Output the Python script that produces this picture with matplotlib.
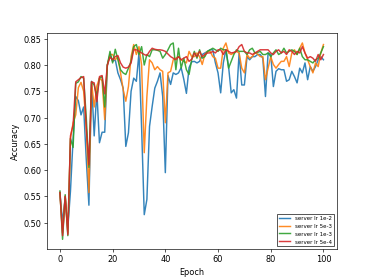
import matplotlib
matplotlib.use("Agg")
import matplotlib.pyplot as plt
import numpy as np

epochs = list(range(101))

acc_lr_1e2 = [
    0.557, 0.500, 0.548, 0.490, 0.560, 0.660, 0.740, 0.732, 0.705, 0.720,
    0.620, 0.533, 0.769, 0.665, 0.750, 0.652, 0.672, 0.672, 0.800, 0.820,
    0.807, 0.810, 0.785, 0.772, 0.756, 0.645, 0.671, 0.750, 0.775, 0.769,
    0.823, 0.680, 0.515, 0.544, 0.683, 0.721, 0.756, 0.769, 0.785, 0.740,
    0.595, 0.780, 0.763, 0.785, 0.782, 0.785, 0.795, 0.773, 0.746, 0.795,
    0.806, 0.807, 0.804, 0.807, 0.820, 0.823, 0.826, 0.829, 0.829, 0.804,
    0.785, 0.747, 0.804, 0.829, 0.797, 0.747, 0.753, 0.737, 0.823, 0.762,
    0.762, 0.816, 0.810, 0.816, 0.816, 0.820, 0.820, 0.813, 0.740, 0.823,
    0.820, 0.759, 0.788, 0.793, 0.791, 0.791, 0.769, 0.772, 0.788, 0.778,
    0.766, 0.794, 0.785, 0.804, 0.772, 0.797, 0.788, 0.797, 0.810, 0.816,
    0.810,
]

acc_lr_5e3 = [
    0.557, 0.480, 0.550, 0.480, 0.660, 0.690, 0.705, 0.757, 0.767, 0.750,
    0.680, 0.557, 0.768, 0.720, 0.760, 0.775, 0.770, 0.696, 0.800, 0.820,
    0.820, 0.810, 0.816, 0.785, 0.753, 0.731, 0.759, 0.816, 0.839, 0.820,
    0.835, 0.800, 0.633, 0.740, 0.810, 0.804, 0.791, 0.797, 0.791, 0.788,
    0.690, 0.785, 0.788, 0.810, 0.813, 0.816, 0.810, 0.807, 0.804, 0.826,
    0.816, 0.816, 0.823, 0.816, 0.801, 0.820, 0.826, 0.826, 0.816, 0.813,
    0.794, 0.794, 0.832, 0.842, 0.823, 0.820, 0.823, 0.826, 0.823, 0.794,
    0.785, 0.820, 0.813, 0.816, 0.823, 0.821, 0.816, 0.816, 0.772, 0.794,
    0.816, 0.801, 0.794, 0.801, 0.807, 0.807, 0.816, 0.797, 0.823, 0.829,
    0.820, 0.832, 0.842, 0.823, 0.810, 0.797, 0.785, 0.804, 0.797, 0.823,
    0.839,
]

acc_lr_1e3 = [
    0.560, 0.468, 0.553, 0.475, 0.660, 0.643, 0.765, 0.768, 0.778, 0.775,
    0.700, 0.605, 0.768, 0.762, 0.740, 0.775, 0.778, 0.720, 0.800, 0.826,
    0.804, 0.830, 0.810, 0.791, 0.785, 0.782, 0.794, 0.807, 0.835, 0.839,
    0.820, 0.835, 0.800, 0.820, 0.816, 0.829, 0.829, 0.828, 0.826, 0.813,
    0.820, 0.829, 0.839, 0.842, 0.791, 0.832, 0.794, 0.813, 0.791, 0.782,
    0.810, 0.826, 0.813, 0.829, 0.813, 0.816, 0.826, 0.829, 0.832, 0.829,
    0.826, 0.832, 0.829, 0.829, 0.794, 0.807, 0.820, 0.829, 0.826, 0.826,
    0.826, 0.820, 0.829, 0.832, 0.823, 0.824, 0.826, 0.820, 0.820, 0.823,
    0.816, 0.823, 0.829, 0.820, 0.823, 0.832, 0.823, 0.826, 0.829, 0.826,
    0.820, 0.832, 0.816, 0.810, 0.810, 0.807, 0.804, 0.810, 0.813, 0.823,
    0.835,
]

acc_lr_5e4 = [
    0.557, 0.475, 0.550, 0.477, 0.665, 0.686, 0.768, 0.772, 0.776, 0.778,
    0.680, 0.610, 0.768, 0.766, 0.730, 0.778, 0.780, 0.745, 0.800, 0.815,
    0.810, 0.816, 0.818, 0.804, 0.796, 0.794, 0.796, 0.804, 0.829, 0.829,
    0.826, 0.823, 0.820, 0.818, 0.826, 0.832, 0.830, 0.829, 0.829, 0.828,
    0.826, 0.821, 0.816, 0.813, 0.810, 0.816, 0.810, 0.813, 0.816, 0.807,
    0.811, 0.823, 0.816, 0.826, 0.816, 0.820, 0.823, 0.823, 0.826, 0.823,
    0.829, 0.829, 0.820, 0.829, 0.826, 0.823, 0.824, 0.826, 0.835, 0.839,
    0.826, 0.823, 0.823, 0.820, 0.823, 0.826, 0.829, 0.829, 0.829, 0.829,
    0.823, 0.820, 0.826, 0.829, 0.823, 0.826, 0.820, 0.829, 0.826, 0.820,
    0.826, 0.823, 0.835, 0.823, 0.813, 0.816, 0.813, 0.807, 0.820, 0.810,
    0.820,
]

series = [
    ("server lr 1e-2", acc_lr_1e2, "#1f77b4"),
    ("server lr 5e-3", acc_lr_5e3, "#ff7f0e"),
    ("server lr 1e-3", acc_lr_1e3, "#2ca02c"),
    ("server lr 5e-4", acc_lr_5e4, "#d62728"),
]

fig, ax = plt.subplots(figsize=(6.4, 4.8), dpi=58.44)
for label, vals, color in series:
    ax.plot(epochs, vals, label=label, color=color, linewidth=1.8, alpha=0.9)

ax.set_xlabel("Epoch")
ax.set_ylabel("Accuracy")
ax.set_xticks([0, 20, 40, 60, 80, 100])
ax.set_yticks([0.50, 0.55, 0.60, 0.65, 0.70, 0.75, 0.80, 0.85])
ax.legend(loc="lower right", fontsize=6.8, edgecolor="black", fancybox=False)

fig.savefig("out.png", dpi=58.44)
